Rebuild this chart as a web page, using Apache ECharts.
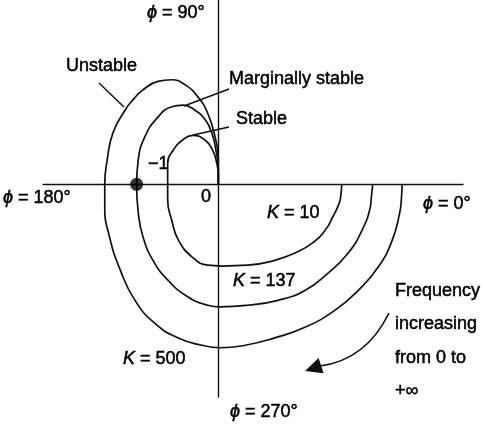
<!DOCTYPE html>
<html><head><meta charset="utf-8">
<script src="https://cdn.jsdelivr.net/npm/echarts@6/dist/echarts.min.js"></script>
<style>html,body{margin:0;padding:0;background:#fff}#c{width:482px;height:425px}</style>
</head><body><div id="c"></div>
<script>
// Nyquist loci, in units where the critical point is -1 (from ω=0 on the positive real axis, clockwise to the origin)
const curveK10 = [[1.51,0],[1.50,-0.13],[1.48,-0.23],[1.40,-0.40],[1.31,-0.56],[1.15,-0.72],[0.94,-0.84],[0.69,-0.93],[0.36,-0.99],[0.05,-1.00],[-0.13,-0.99],[-0.32,-0.89],[-0.49,-0.68],[-0.57,-0.44],[-0.62,-0.19],[-0.62,0],[-0.62,0.26],[-0.55,0.42],[-0.44,0.54],[-0.31,0.60],[-0.16,0.54],[-0.07,0.42],[-0.02,0.26],[0,0.11],[0,0]];
const curveK137 = [[1.89,0],[1.87,-0.19],[1.86,-0.28],[1.76,-0.56],[1.59,-0.84],[1.34,-1.09],[1.06,-1.30],[0.73,-1.42],[0.36,-1.48],[0.02,-1.50],[-0.13,-1.48],[-0.37,-1.38],[-0.62,-1.17],[-0.80,-0.93],[-0.92,-0.65],[-0.98,-0.35],[-1.00,0],[-0.98,0.30],[-0.90,0.58],[-0.75,0.81],[-0.57,0.95],[-0.43,0.97],[-0.29,0.91],[-0.16,0.79],[-0.08,0.63],[-0.03,0.42],[0,0.18],[0,0]];
const curveK500 = [[2.25,0],[2.24,-0.19],[2.22,-0.35],[2.13,-0.68],[1.96,-1.01],[1.71,-1.30],[1.43,-1.54],[1.06,-1.75],[0.69,-1.88],[0.33,-1.97],[0.02,-2.00],[-0.20,-1.97],[-0.49,-1.88],[-0.78,-1.70],[-1.02,-1.42],[-1.20,-1.05],[-1.33,-0.65],[-1.39,-0.28],[-1.39,0],[-1.36,0.30],[-1.29,0.63],[-1.14,0.91],[-1.04,1.04],[-0.93,1.15],[-0.74,1.26],[-0.57,1.28],[-0.41,1.22],[-0.25,1.07],[-0.13,0.87],[-0.04,0.58],[0,0.30],[0,0]];
const criticalPoint = [[-1,0]];
const xRange = [-2.146, 2.995];
const yRange = [-2.603, 2.256];
const axisLabels = ['ϕ = 90°','ϕ = 180°','ϕ = 0°','ϕ = 270°'];
const gainLabels = ['K = 10','K = 137','K = 500'];
const stabilityLabels = ['Unstable','Marginally stable','Stable'];
const freqNote = ['Frequency','increasing','from 0 to','+∞'];

const FONT = "'Liberation Sans', Arial, Helvetica, sans-serif";
const chart = echarts.init(document.getElementById('c'), null, {renderer:'canvas'});

function txt(t, x, y, size) {
  const base = {fontSize:size||18, fontFamily:FONT, fill:'#000', stroke:'#000', lineWidth:0.5};
  const rich = {i:Object.assign({fontStyle:'italic'}, base)};
  const s = t.replace(/^ϕ/, '{i|ϕ}').replace(/^K/, '{i|K}');
  return {type:'text', x:x, y:y, z:10, style:Object.assign({text:s, rich:rich, align:'left', verticalAlign:'middle'}, base)};
}
function seg(x1,y1,x2,y2){
  return {type:'line', z:5, shape:{x1,y1,x2,y2}, style:{stroke:'#111', lineWidth:1.5}};
}
const axisCommon = {
  type:'value', axisTick:{show:false}, axisLabel:{show:false}, splitLine:{show:false},
  axisLine:{show:true, onZero:true, lineStyle:{color:'#111', width:1.4}}
};
const lineStyle = {color:'#111', width:1.7};
chart.setOption({
  animation:false,
  backgroundColor:'#fff',
  grid:{left:43, right:19, top:0, bottom:28},
  xAxis:Object.assign({min:xRange[0], max:xRange[1]}, axisCommon),
  yAxis:Object.assign({min:yRange[0], max:yRange[1]}, axisCommon),
  series:[
    {type:'line', data:curveK10, smooth:0.5, symbol:'none', lineStyle},
    {type:'line', data:curveK137, smooth:0.5, symbol:'none', lineStyle},
    {type:'line', data:curveK500, smooth:0.5, symbol:'none', lineStyle},
    {type:'scatter', data:criticalPoint, symbolSize:13, itemStyle:{color:'#000'}, z:6}
  ],
  graphic:[
    txt(axisLabels[0], 147, 13),
    txt(axisLabels[1], 3, 198),
    txt(axisLabels[2], 423, 204),
    txt(axisLabels[3], 230, 412),
    txt('0', 201, 197),
    txt('−1', 148, 164),
    txt(stabilityLabels[0], 66, 66),
    txt(stabilityLabels[1], 229, 79),
    txt(stabilityLabels[2], 236, 119),
    txt(gainLabels[0], 267, 213),
    txt(gainLabels[1], 233, 281),
    txt(gainLabels[2], 123, 359),
    txt(freqNote[0], 395, 291),
    txt(freqNote[1], 395, 324),
    txt(freqNote[2], 395, 358),
    txt(freqNote[3], 395, 391),
    seg(99,83,124,107),
    seg(229,89,184,106),
    seg(229,127,193,135),
    {type:'bezierCurve', z:5, shape:{x1:389,y1:313,x2:320,y2:366,cpx1:366,cpy1:360}, style:{stroke:'#111', lineWidth:1.7, fill:null}},
    {type:'polygon', z:5, shape:{points:[[305,371],[318.6,358],[323.6,373.2]]}, style:{fill:'#111'}}
  ]
});
</script></body></html>
